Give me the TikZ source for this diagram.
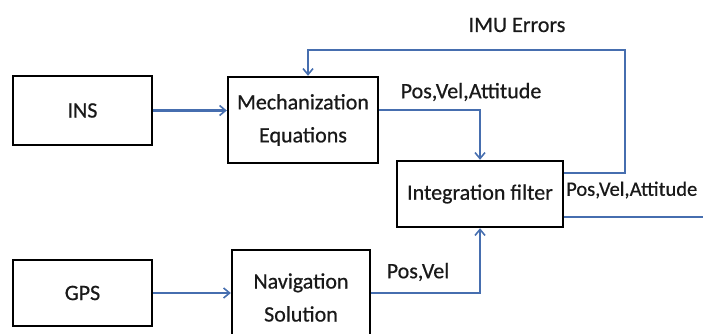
\documentclass[tikz,border=0pt]{standalone}
\usepackage{fontspec}
\setmainfont{Carlito}[FakeBold=0.6]
\usetikzlibrary{arrows.meta}
\definecolor{arrowblue}{RGB}{70,110,175}
\definecolor{txt}{RGB}{25,25,25}
\begin{document}
\begin{tikzpicture}[x=1pt,y=-1pt,
  box/.style={draw=black,line width=2.4pt,fill=white,align=center,text=txt,inner sep=0pt,
    font=\fontsize{22}{33}\selectfont},
  lbl/.style={text=txt,inner sep=0pt,font=\fontsize{22}{26}\selectfont},
  conn/.style={draw=arrowblue,line width=2.2pt},
  arr/.style={conn,-{Straight Barb[length=6pt,width=10pt,line width=1.6pt]}}]
\useasboundingbox (0,0) rectangle (703,334);
\node[box,minimum width=139pt,minimum height=69pt] (ins) at (82.5,110.5) {INS};
\node[box,minimum width=150pt,minimum height=86pt] (mech) at (303,120) {Mechanization\\Equations};
\node[box,minimum width=166pt,minimum height=66pt] (int) at (480,194) {Integration filter};
\node[box,minimum width=139pt,minimum height=66pt] (gps) at (82.5,293) {GPS};
\node[box,minimum width=138pt,minimum height=95pt] (nav) at (301,297.5) {Navigation\\Solution};
\coordinate (fbR) at (625,50);
\coordinate (fbL) at (308,50);
\coordinate (out) at (710,217);
\node[lbl] (imu) at (517,25) {IMU Errors};
\node[lbl] (pva1) at (471,92) {Pos,Vel,Attitude};
\node[lbl,anchor=west,font=\fontsize{20.5}{25}\selectfont] (pva2) at (566,190) {Pos,Vel,Attitude};
\node[lbl] (pv) at (418,272) {Pos,Vel};
\draw[arr] (ins.east) -- (ins.east -| mech.west);
\draw[arr] (gps.east) -- (gps.east -| nav.west);
\draw[arr] ([yshift=10pt]mech.east) -| (int.north);
\draw[arr] ([yshift=4.5pt]nav.east) -| (int.south);
\draw[arr] ([yshift=21pt]int.east) -| (fbR) -- (fbL) -- (fbL |- mech.north);
\draw[conn] ([yshift=-23pt]int.east) -- (out);
\end{tikzpicture}
\end{document}
